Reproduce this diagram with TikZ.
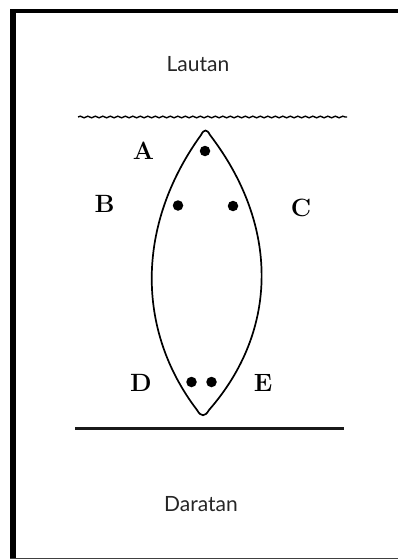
\documentclass[tikz,border=0pt]{standalone}
\usepackage{fontspec}
\newfontfamily\labelsans{Lato}
\usetikzlibrary{decorations.pathmorphing}
\tikzset{
  place/.style={font=\labelsans\fontsize{21}{24}\selectfont, inner sep=0pt, text=black!85},
  letter/.style={font=\bfseries\fontsize{25}{28}\selectfont, inner sep=0pt},
  spot/.style={circle, fill=black, inner sep=0pt, minimum size=10.5pt},
  frame/.style={fill=black},
}
\begin{document}
\begin{tikzpicture}[x=1pt,y=-1pt]
\useasboundingbox (0,0) rectangle (398,559);
% frame
\fill[frame] (10,9) rectangle (398,13.5);
\fill[frame] (10,9) rectangle (15.5,559);
\fill[black!75] (10,557.5) rectangle (398,559);
% texts
\node[place] (sea) at (198,64) {Lautan};
\node[place] (land) at (201,504.5) {Daratan};
% shore lines
\coordinate (w1) at (78,117);
\coordinate (w2) at (347,117);
\draw[line width=1.4pt, decorate, decoration={snake, segment length=7.5pt, amplitude=0.8pt}] (w1) -- (w2);
\coordinate (g1) at (75,428);
\coordinate (g2) at (344,428);
\draw[line width=3pt, black!90] (g1) -- (g2);
% lens
\draw[line width=1.7pt]
  (201,135) .. controls (136,225) and (136,330) .. (197,410)
  .. controls (201,417) and (205,417) .. (209,410)
  .. controls (279,330) and (279,225) .. (210,135)
  .. controls (207,129) and (204,129) .. cycle;
% dots
\node[spot] (pa) at (205,151) {};
\node[spot] (pb) at (178,205.5) {};
\node[spot] (pc) at (233,206) {};
\node[spot] (pd1) at (191.5,382) {};
\node[spot] (pd2) at (211.5,382) {};
% labels
\node[letter] (la) at (143.5,150.5) {A};
\node[letter] (lb) at (104.5,204) {B};
\node[letter] (lc) at (301,208) {C};
\node[letter] (ld) at (141,383) {D};
\node[letter] (le) at (263,383) {E};
\end{tikzpicture}
\end{document}
